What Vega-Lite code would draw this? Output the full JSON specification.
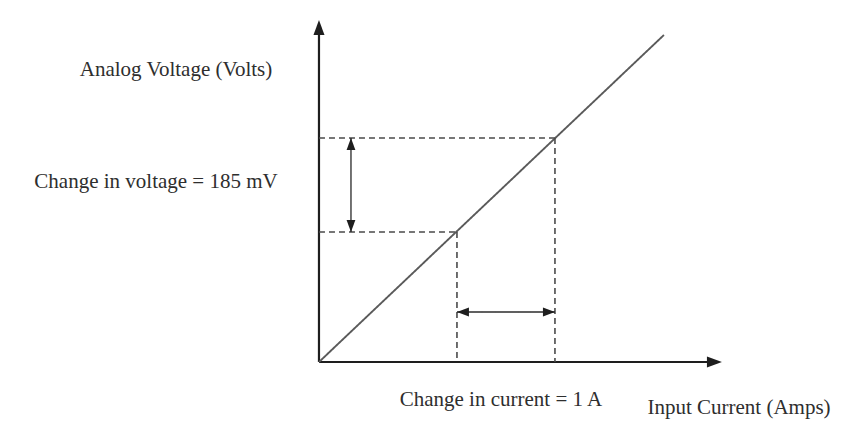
{
  "$schema": "https://vega.github.io/schema/vega-lite/v6.json",
  "width": 866,
  "height": 437,
  "padding": 0,
  "autosize": {"type": "fit", "contains": "padding"},
  "background": "white",
  "config": {"view": {"stroke": null}},
  "datasets": {
    "segments": [
      {"x": 0, "y": 0, "x2": 0, "y2": 0.6436, "kind": "axis"},
      {"x": 0, "y": 0, "x2": 3.96, "y2": 0, "kind": "axis"},
      {"x": 0, "y": 0, "x2": 3.52, "y2": 0.6436, "kind": "line"},
      {"x": 0, "y": 0.2559, "x2": 1.408, "y2": 0.2559, "kind": "dashed"},
      {"x": 1.408, "y": 0.2559, "x2": 1.408, "y2": 0, "kind": "dashed"},
      {"x": 0, "y": 0.4409, "x2": 2.408, "y2": 0.4409, "kind": "dashed"},
      {"x": 2.408, "y": 0.4409, "x2": 2.408, "y2": 0, "kind": "dashed"},
      {"x": 0.3265, "y": 0.2559, "x2": 0.3265, "y2": 0.4409, "kind": "arrow"},
      {"x": 1.408, "y": 0.0984, "x2": 2.408, "y2": 0.0984, "kind": "arrow"}
    ],
    "heads": [
      {"x": 0, "y": 0.673, "dir": "up", "kind": "axis"},
      {"x": 4.112, "y": 0, "dir": "right", "kind": "axis"},
      {"x": 0.3265, "y": 0.4409, "dir": "up", "kind": "small"},
      {"x": 0.3265, "y": 0.2559, "dir": "down", "kind": "small"},
      {"x": 1.408, "y": 0.0984, "dir": "left", "kind": "small"},
      {"x": 2.408, "y": 0.0984, "dir": "right", "kind": "small"}
    ],
    "labels": [
      {"x": -1.459, "y": 0.5747, "text": "Analog Voltage (Volts)"},
      {"x": -1.663, "y": 0.3543, "text": "Change in voltage = 185 mV"},
      {"x": 1.857, "y": -0.0748, "text": "Change in current = 1 A"},
      {"x": 4.286, "y": -0.0905, "text": "Input Current (Amps)"}
    ]
  },
  "layer": [
    {
      "data": {"name": "segments"},
      "mark": {"type": "rule"},
      "encoding": {
        "x": {"field": "x", "type": "quantitative", "scale": {"domain": [-3.255, 5.582], "nice": false, "zero": false}, "axis": null},
        "y": {"field": "y", "type": "quantitative", "scale": {"domain": [-0.1476, 0.7125], "nice": false, "zero": false}, "axis": null},
        "x2": {"field": "x2"},
        "y2": {"field": "y2"},
        "color": {"field": "kind", "type": "nominal", "scale": {"domain": ["axis", "line", "dashed", "arrow"], "range": ["#1e1e1e", "#5a5a5a", "#4a4a4a", "#2a2a2a"]}, "legend": null},
        "strokeWidth": {"field": "kind", "type": "nominal", "scale": {"domain": ["axis", "line", "dashed", "arrow"], "range": [2.2, 1.3, 1.6, 1.8]}, "legend": null},
        "strokeDash": {"field": "kind", "type": "nominal", "scale": {"domain": ["axis", "line", "dashed", "arrow"], "range": [[1, 0], [1, 0], [6, 4], [1, 0]]}, "legend": null}
      }
    },
    {
      "data": {"name": "heads"},
      "mark": {"type": "point", "filled": true, "opacity": 1, "color": "#1e1e1e", "strokeWidth": 0},
      "encoding": {
        "x": {"field": "x", "type": "quantitative"},
        "y": {"field": "y", "type": "quantitative"},
        "shape": {"field": "dir", "type": "nominal", "scale": {"domain": ["up", "down", "left", "right"], "range": ["M0,0L0.55,1.5L-0.55,1.5Z", "M0,0L0.55,-1.5L-0.55,-1.5Z", "M0,0L1.5,0.55L1.5,-0.55Z", "M0,0L-1.5,0.55L-1.5,-0.55Z"]}, "legend": null},
        "size": {"field": "kind", "type": "nominal", "scale": {"domain": ["axis", "small"], "range": [400, 256]}, "legend": null}
      }
    },
    {
      "data": {"name": "labels"},
      "mark": {"type": "text", "font": "Liberation Serif", "fontSize": 21, "color": "#2e2e2e", "align": "center", "baseline": "middle"},
      "encoding": {
        "x": {"field": "x", "type": "quantitative"},
        "y": {"field": "y", "type": "quantitative"},
        "text": {"field": "text", "type": "nominal"}
      }
    }
  ]
}
